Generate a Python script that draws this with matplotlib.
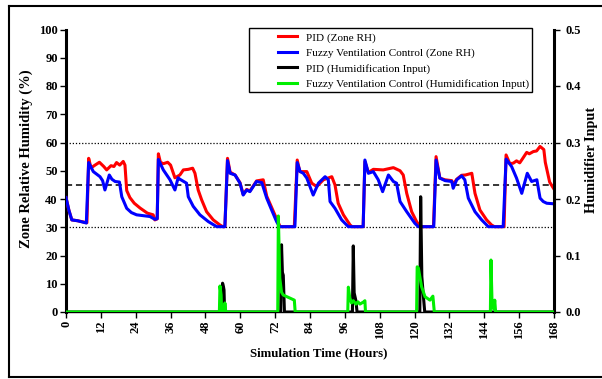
import numpy as np
import matplotlib
matplotlib.use("Agg")
import matplotlib.pyplot as plt
from matplotlib.lines import Line2D
from matplotlib.patches import Rectangle

plt.rcParams['font.family'] = ['Liberation Serif', 'DejaVu Serif']

# Zone RH, PID controller (%)
pid_t = [0, 1, 2, 4, 7.2, 7.8, 8.6, 10, 11.5, 13, 14, 15.5, 16.5, 17.4, 18.5, 19.7, 20.3,
         20.9, 22, 23.5, 25.5, 28, 30, 30.6, 31.4, 31.8, 32.5, 33.5, 35, 36, 37.5, 39.2,
         40.4, 42.1, 43.6, 44.4, 45.5, 46.7, 48.4, 50.7, 53, 54, 54.7, 55.6, 56.5, 58.2,
         59.9, 61, 62.2, 63.3, 65.6, 67.9, 69.1, 70.8, 72.5, 73.7, 78.6, 79.6, 80.5, 82.9,
         84.6, 86.3, 88.6, 91.5, 92.6, 93.7, 95.5, 97.8, 98.5, 102.3, 102.9, 104.1, 105.8,
         109.2, 112.7, 115, 116.1, 117.3, 119, 120.7, 121.9, 126.5, 127.4, 128.7, 130.5,
         132.8, 133.3, 134.5, 136.2, 137.5, 139.7, 140.8, 142.5, 144.8, 146.5, 147.5, 150.8,
         151.5, 152.8, 154, 155.1, 156.2, 157, 158.6, 159.5, 160.9, 162, 163.2, 164.5, 165,
         166.5, 168]
pid_rh = [40.5, 36, 32.6, 32.3, 31.6, 54.4, 51, 52, 53, 51.5, 50.3, 51.8, 51.5, 52.9, 52, 53.3, 52,
          43, 40.5, 38.5, 36.8, 35, 34.4, 32.6, 33, 56, 53, 52.5, 53, 52, 47.5, 48.5,
          50.3, 50.5, 50.9, 49.1, 43.2, 39.7, 35.5, 32.6, 30.8, 30.2, 30.2, 54.4, 49.5, 48.5,
          45.8, 41.6, 43.4, 42.8, 46.4, 46.8, 41, 37, 33, 30.2, 30.2, 53.8, 49.7, 49.7,
          45.6, 44.4, 46.8, 47.9, 45, 38.5, 34.4, 30.8, 30.2, 30.2, 53.2, 49.4, 50.5,
          50.3, 51.1, 50, 48.5, 42, 35.5, 32, 30.2, 30.2, 55, 47.4, 46.8,
          46.5, 45, 47, 48.4, 48.5, 49.1, 42, 36.1, 32.6, 30.8, 30.2, 30.2,
          55.6, 52.5, 52.7, 53.5, 52.8, 54, 56.5, 56, 56.8, 57, 58.6, 57.5, 53,
          46, 43.5]

# Zone RH, fuzzy ventilation control (%)
fz_t = [0, 1, 2, 4, 7, 7.8, 9.4, 11.7, 12.6, 13.4, 14.9, 15.8, 16.9, 18.4, 19.2, 20.9, 22.5,
        24.3, 28.9, 30.6, 31.4, 31.8, 33.5, 35.8, 37.5, 38.6, 39.2, 41.5, 42.1, 43.8, 46.1,
        49, 51.9, 54.7, 55.6, 56.5, 58.2, 59.9, 61, 62.2, 63.3, 65.6, 67.4, 69.1, 70.8,
        72.5, 73.5, 78.8, 79.6, 80.6, 81.7, 82.9, 84, 85.1, 86.9, 89.2, 90.3, 90.9, 92.6,
        94.9, 97.2, 102.3, 102.9, 104.1, 105.8, 107.5, 109, 111, 112.7, 113.8, 115, 117.3,
        120.1, 121.3, 126.6, 127.4, 128.7, 130.5, 132.8, 133.3, 134.5, 136.2, 137.3, 138.5,
        140.8, 143.1, 145.4, 150.5, 151.5, 153.4, 155.1, 156.9, 158.8, 160.3, 162.1, 163.2,
        164.3, 165.5, 168]
fz_rh = [40.5, 36, 32.6, 32.3, 31.5, 52.9, 49.7, 47.9, 46.5, 43.2, 48.5, 47, 46.2, 46, 40.8, 36.7, 35.2,
         34.4, 33.8, 32.8, 33, 54, 50.3, 46.8, 43.2, 47.5, 47, 45.6, 40.8, 37.4, 34.4,
         32, 30.2, 30.2, 53.6, 49.1, 48.5, 45.6, 41.4, 43.2, 42.6, 46.2, 45.8, 40.3, 36.1,
         32, 30.2, 30.2, 52.9, 49.7, 49.1, 47.4, 44.4, 41.4, 45.6, 47.9, 46.8, 39.1, 36.7,
         32.6, 30.2, 30.2, 53.8, 49.1, 49.7, 46.8, 42.6, 48.5, 46.2, 45.6, 39.1, 35.5,
         31.4, 30.2, 30.2, 53.8, 47.4, 46.5, 46.2, 43.8, 46.8, 48.2, 46.8, 40.3,
         35.5, 32.6, 30.2, 30.2, 54.1, 51.5, 47.4, 42, 49.1, 46.2, 46.8, 40.3,
         39.1, 38.5, 38.3]

# Humidification input, PID
pid_hum_t = [0, 53.6, 53.9, 54.2, 54.4, 54.6, 73.9, 74.2, 74.5, 74.8, 75.2, 98.6, 98.9,
             99.2, 99.8, 100.2, 121.8, 122.1, 122.5, 123, 123.5, 168]
pid_hum = [0, 0, 0.051, 0.045, 0.039, 0, 0, 0.119, 0.07, 0.065, 0, 0, 0.117,
           0.034, 0.02, 0, 0, 0.204, 0.0625, 0.03, 0, 0]

# Humidification input, fuzzy ventilation control
fz_hum_t = [0, 52.8, 53.0, 53.4, 53.6, 54.5, 54.7, 55.0, 72.9, 73.1, 73.6, 74.2, 74.8,
            76.5, 78.6, 78.9, 97.0, 97.2, 97.7, 98.3, 98.9, 99.8, 100.5, 101.2, 102.5,
            102.9, 103.1, 120.7, 120.9, 121.3, 122.4, 123.6, 125.3, 126.3, 126.8, 146.1,
            146.3, 146.7, 147.3, 147.6, 147.9, 168]
fz_hum = [0, 0, 0.046, 0.03, 0, 0, 0.016, 0, 0, 0.170, 0.06, 0.035, 0.030,
          0.026, 0.021, 0, 0, 0.044, 0.025, 0.016, 0.02, 0.014, 0.018, 0.014, 0.018,
          0.02, 0, 0, 0.080, 0.078, 0.045, 0.027, 0.021, 0.028, 0, 0,
          0.092, 0.01, 0.005, 0.021, 0, 0]

x_ticks = np.arange(0, 169, 12)
rh_ticks = np.arange(0, 101, 10)
hum_ticks = [0.0, 0.1, 0.2, 0.3, 0.4, 0.5]

W, H = 602, 379
fig = plt.figure(figsize=(W / 100, H / 100), dpi=100)
ax = fig.add_axes([66 / W, 1 - 312 / H, (554 - 66) / W, (312 - 29.5) / H])
ax2 = ax.twinx()

tick_font = dict(fontsize=9, fontweight='bold')

ax.axhline(60, color='black', lw=0.9, ls=(0, (1, 1.5)), zorder=1)
ax.axhline(30, color='black', lw=0.9, ls=(0, (1, 1.5)), zorder=1)
ax.axhline(45, color='black', lw=1.1, ls=(0, (4, 2.5)), zorder=1)

l1, = ax.plot(pid_t, pid_rh, color='red', lw=2.2, label='PID (Zone RH)', zorder=3)
l2, = ax.plot(fz_t, fz_rh, color='blue', lw=2.2,
              label='Fuzzy Ventilation Control (Zone RH)', zorder=4)
l3, = ax2.plot(pid_hum_t, pid_hum, color='black', lw=2.2,
               label='PID (Humidification Input)', zorder=3)
l4, = ax2.plot(fz_hum_t, fz_hum, color='#00ee00', lw=2.2,
               label='Fuzzy Ventilation Control (Humidification Input)', zorder=4)

ax.set_xlim(0, 168)
ax.set_ylim(0, 100)
ax2.set_ylim(0, 0.5)
ax.set_xticks(x_ticks)
ax.set_yticks(rh_ticks)
ax2.set_yticks(hum_ticks)
ax.set_xticklabels([str(v) for v in x_ticks], rotation=90, **tick_font)
ax.set_yticklabels([str(v) for v in rh_ticks], **tick_font)
ax2.set_yticklabels(['%.1f' % v for v in hum_ticks], **tick_font)

ax.tick_params(axis='both', length=4, width=1, pad=2, direction='out')
ax2.tick_params(axis='y', length=4, width=1, pad=4, direction='out')

for a in (ax, ax2):
    a.spines['top'].set_visible(False)
    a.patch.set_visible(False)
ax.spines['right'].set_visible(False)
ax.spines['left'].set_linewidth(2.2)
ax.spines['bottom'].set_linewidth(1)
ax2.spines['left'].set_visible(False)
ax2.spines['bottom'].set_visible(False)
ax2.spines['right'].set_linewidth(2.2)

fig.text(26 / W, 1 - 159 / H, 'Zone Relative Humidity (%)', rotation=90,
         ha='center', va='center', fontsize=10.5, fontweight='bold')
fig.text(591 / W, 1 - 160 / H, 'Humidifier Input', rotation=90,
         ha='center', va='center', fontsize=10.3, fontweight='bold')
fig.text(319 / W, 1 - 353 / H, 'Simulation Time (Hours)',
         ha='center', va='center', fontsize=9.3, fontweight='bold')

# legend box drawn separately so the inner padding can be uneven
fig.patches.append(Rectangle((249 / W, 1 - 92 / H), (532 - 249) / W, (92 - 28) / H,
                             transform=fig.transFigure, fill=False,
                             edgecolor='black', lw=1.0))
fig.legend(handles=[l1, l2, l3, l4], loc='upper left',
           bbox_to_anchor=(278 / W, 1 - 32.5 / H), bbox_transform=fig.transFigure,
           frameon=False, borderpad=0, borderaxespad=0, fontsize=8.1,
           handlelength=1.65, handletextpad=0.8, labelspacing=0.48)

# outer frame
for xs, ys in [((9, 9), (5.5, 377)), ((9, W), (5.5, 5.5)), ((9, W), (377, 377))]:
    fig.add_artist(Line2D([x / W for x in xs], [1 - y / H for y in ys],
                          transform=fig.transFigure, color='black', lw=1.5))

fig.savefig('out.png', dpi=100)
